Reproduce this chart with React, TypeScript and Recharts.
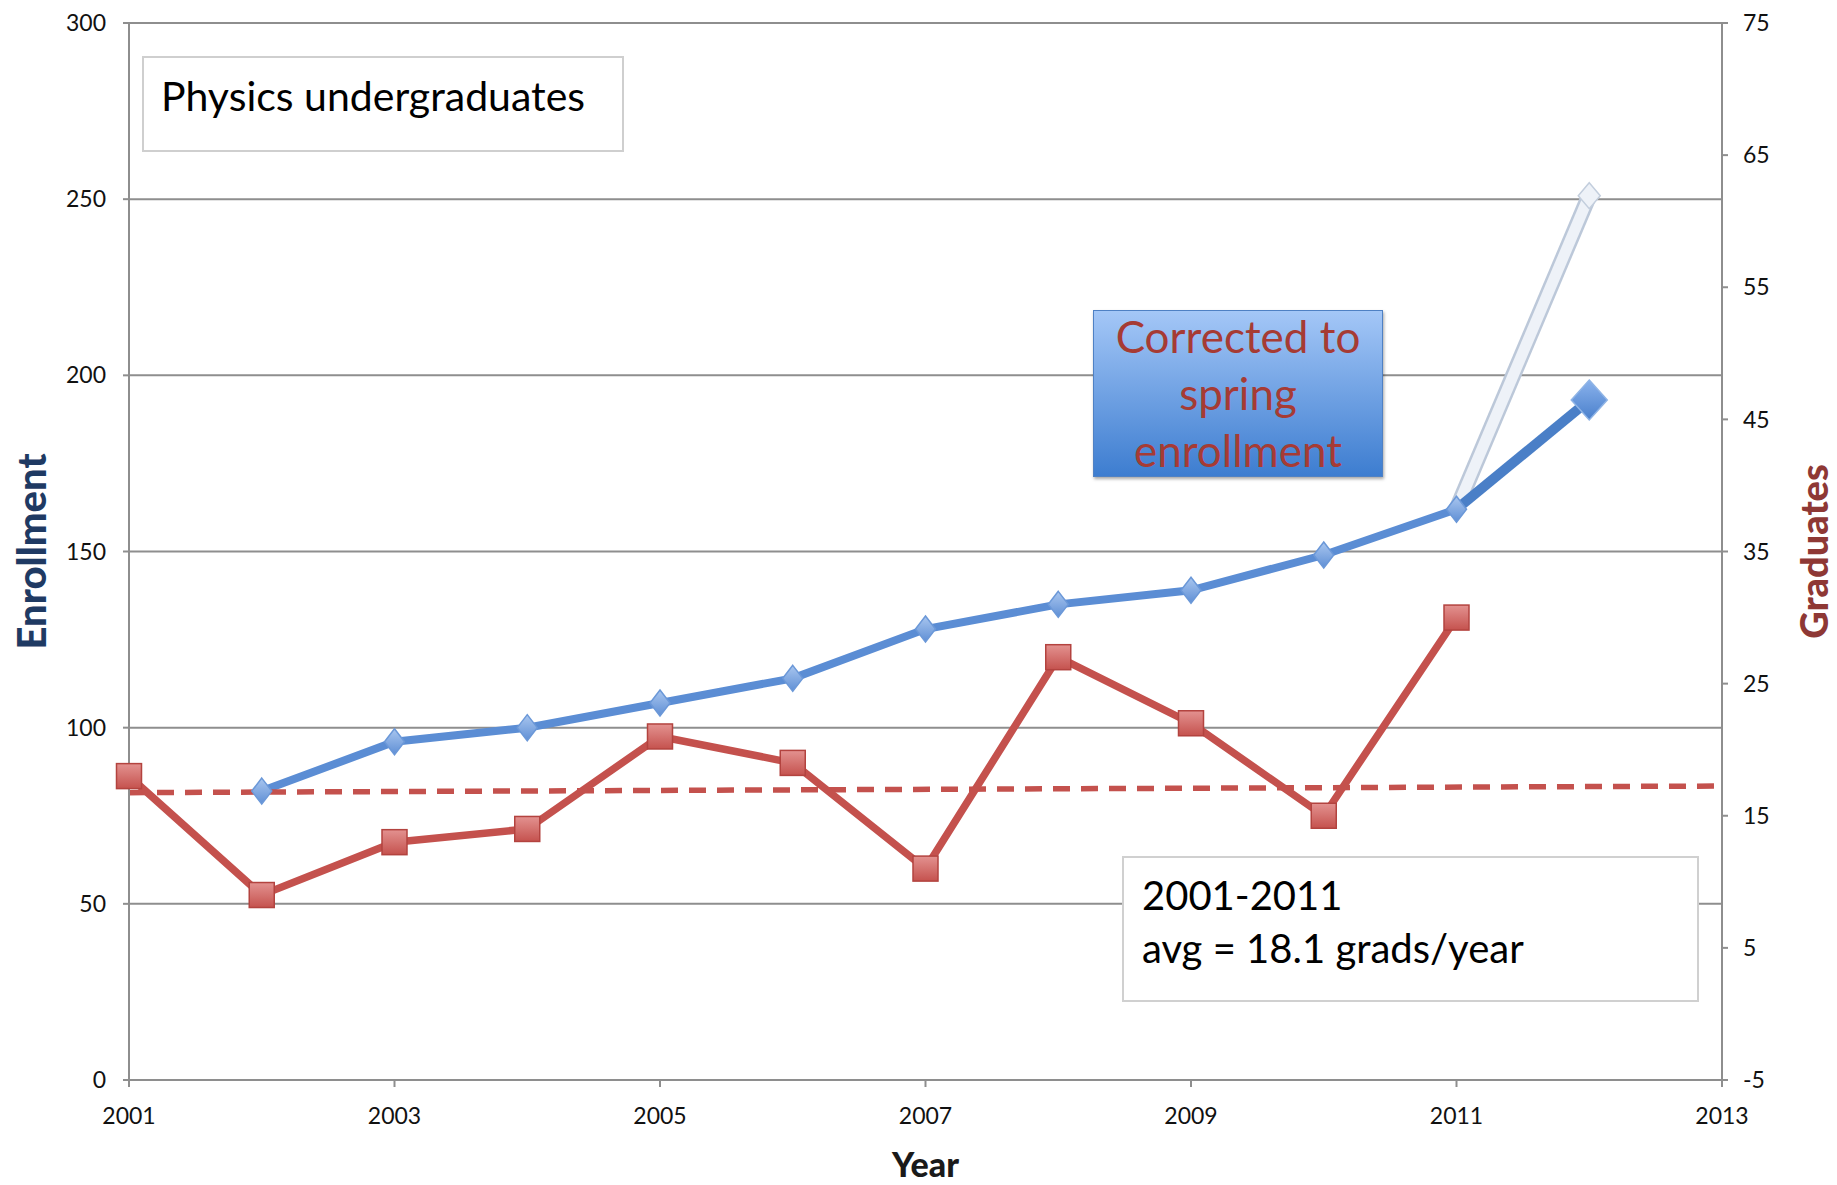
import React from "react";
import {
  ComposedChart,
  Line,
  XAxis,
  YAxis,
  CartesianGrid,
} from "recharts";

// values
const years = [2001, 2002, 2003, 2004, 2005, 2006, 2007, 2008, 2009, 2010, 2011, 2012, 2013];
const enrollment = [null, 82, 96, 100, 107, 114, 128, 135, 139, 149, 162, null, null];
const enrollmentSpring = [null, null, null, null, null, null, null, null, null, null, 162, 193, null];
const enrollmentFall = [null, null, null, null, null, null, null, null, null, null, 162, 251, null];
const graduates = [18, 9, 13, 14, 21, 19, 11, 27, 22, 15, 30, null, null];
const gradTrend = [16.75, null, null, null, null, null, null, null, null, null, null, null, 17.25];

const xTicks = [2001, 2003, 2005, 2007, 2009, 2011, 2013];
const leftTicks = [0, 50, 100, 150, 200, 250, 300];
const rightTicks = [-5, 5, 15, 25, 35, 45, 55, 65, 75];

const data = years.map((year, i) => ({
  year,
  enrollment: enrollment[i],
  spring: enrollmentSpring[i],
  fall: enrollmentFall[i],
  graduates: graduates[i],
  trend: gradTrend[i],
}));

const FONT = "Lato, 'Open Sans', sans-serif";
const GRID = "#8e8e8e";
const BLUE = "#5b8dd4";
const RED = "#c4514d";

const tickStyle = { fontSize: 23, fill: "#111", fontFamily: FONT };

const diamond = (cx: number, cy: number, rx: number, ry: number, fill: string, stroke: string, key: any) => (
  <polygon
    key={key}
    points={`${cx},${cy - ry} ${cx + rx},${cy} ${cx},${cy + ry} ${cx - rx},${cy}`}
    fill={fill}
    stroke={stroke}
    strokeWidth={1.5}
  />
);

const SmallDiamond = (props: any) => {
  const { cx, cy, value, index } = props;
  if (value == null || cy == null) return <g key={index} />;
  return diamond(cx, cy, 10, 13, "url(#diamondFill)", "#6b98d8", index);
};

const SpringDiamond = (props: any) => {
  const { cx, cy, payload, index } = props;
  if (cy == null || payload.year !== 2012) return <g key={index} />;
  return diamond(cx, cy, 18, 20, "url(#bigDiamondFill)", "#8fb4e6", index);
};

const FallDiamond = (props: any) => {
  const { cx, cy, payload, index } = props;
  if (cy == null || payload.year !== 2012) return <g key={index} />;
  return diamond(cx, cy, 11, 13, "#eef2f8", "#c3cedd", index);
};

const Square = (props: any) => {
  const { cx, cy, value, index } = props;
  if (value == null || cy == null) return <g key={index} />;
  const s = 25;
  return (
    <rect
      key={index}
      x={cx - s / 2}
      y={cy - s / 2}
      width={s}
      height={s}
      fill="url(#squareFill)"
      stroke="#b3433f"
      strokeWidth={1.5}
    />
  );
};

const LeftTitle = (props: any) => {
  const { viewBox } = props;
  const x = viewBox.x + 31;
  const y = viewBox.y + viewBox.height / 2;
  return (
    <text
      x={x}
      y={y}
      transform={`rotate(-90 ${x} ${y})`}
      textAnchor="middle"
      dominantBaseline="central"
      fontFamily={FONT}
      fontWeight={900}
      fontSize={40}
      fill="#1f3a63"
    >
      Enrollment
    </text>
  );
};

const RightTitle = (props: any) => {
  const { viewBox } = props;
  const x = viewBox.x + 91;
  const y = viewBox.y + viewBox.height / 2;
  return (
    <text
      x={x}
      y={y}
      transform={`rotate(-90 ${x} ${y})`}
      textAnchor="middle"
      dominantBaseline="central"
      fontFamily={FONT}
      fontWeight={900}
      fontSize={38}
      fill="#8e3835"
    >
      Graduates
    </text>
  );
};

const BottomTitle = (props: any) => {
  const { viewBox } = props;
  const x = viewBox.x + viewBox.width / 2;
  const y = viewBox.y + 83;
  return (
    <text
      x={x}
      y={y}
      textAnchor="middle"
      dominantBaseline="central"
      fontFamily={FONT}
      fontWeight={900}
      fontSize={34}
      fill="#1a1a1a"
    >
      Year
    </text>
  );
};

const boxText = { fontFamily: FONT, color: "#000", position: "absolute" as const };

const App = () => {
  return (
    <div style={{ position: "absolute", left: 0, top: 0, width: 1837, height: 1185, background: "#fff" }}>
      <ComposedChart
        width={1837}
        height={1185}
        data={data}
        margin={{ top: 23, right: 0, left: 0, bottom: 0 }}
      >
        <defs>
          <linearGradient id="diamondFill" x1="0" y1="0" x2="0" y2="1">
            <stop offset="0%" stopColor="#a9c6ef" />
            <stop offset="100%" stopColor="#5f8fd5" />
          </linearGradient>
          <linearGradient id="bigDiamondFill" x1="0" y1="0" x2="0" y2="1">
            <stop offset="0%" stopColor="#8ab2ec" />
            <stop offset="100%" stopColor="#4a80cc" />
          </linearGradient>
          <linearGradient id="squareFill" x1="0" y1="0" x2="0" y2="1">
            <stop offset="0%" stopColor="#e39290" />
            <stop offset="100%" stopColor="#c5524e" />
          </linearGradient>
        </defs>
        <CartesianGrid
          yAxisId="left"
          vertical={false}
          stroke={GRID}
          strokeWidth={2}
        />
        <XAxis
          dataKey="year"
          type="number"
          domain={[2001, 2013]}
          ticks={xTicks}
          allowDecimals={false}
          height={105}
          axisLine={{ stroke: GRID, strokeWidth: 2 }}
          tickLine={{ stroke: GRID, strokeWidth: 2 }}
          tickSize={7}
          tickMargin={21}
          tick={tickStyle}
          label={<BottomTitle />}
        />
        <YAxis
          yAxisId="left"
          domain={[0, 300]}
          ticks={leftTicks}
          width={129}
          axisLine={{ stroke: GRID, strokeWidth: 2 }}
          tickLine={{ stroke: GRID, strokeWidth: 2 }}
          tickSize={6}
          tickMargin={17}
          tick={tickStyle}
          label={<LeftTitle />}
        />
        <YAxis
          yAxisId="right"
          orientation="right"
          domain={[-5, 75]}
          ticks={rightTicks}
          width={115}
          axisLine={{ stroke: GRID, strokeWidth: 2 }}
          tickLine={{ stroke: GRID, strokeWidth: 2 }}
          tickSize={6}
          tickMargin={15}
          tick={tickStyle}
          label={<RightTitle />}
        />
        <Line
          yAxisId="left"
          dataKey="fall"
          stroke="#bcc8d9"
          strokeWidth={16}
          dot={false}
          isAnimationActive={false}
        />
        <Line
          yAxisId="left"
          dataKey="fall"
          stroke="#eef2f8"
          strokeWidth={11}
          dot={FallDiamond}
          isAnimationActive={false}
        />
        <Line
          yAxisId="left"
          dataKey="spring"
          stroke="#4a7fc7"
          strokeWidth={10}
          dot={SpringDiamond}
          isAnimationActive={false}
        />
        <Line
          yAxisId="left"
          dataKey="enrollment"
          stroke={BLUE}
          strokeWidth={8}
          dot={SmallDiamond}
          isAnimationActive={false}
        />
        <Line
          yAxisId="right"
          dataKey="trend"
          stroke={RED}
          strokeWidth={5.5}
          strokeDasharray="17 11"
          connectNulls
          dot={false}
          isAnimationActive={false}
        />
        <Line
          yAxisId="right"
          dataKey="graduates"
          stroke={RED}
          strokeWidth={7.5}
          dot={Square}
          isAnimationActive={false}
        />
      </ComposedChart>

      <div
        style={{
          position: "absolute",
          left: 142,
          top: 56,
          width: 482,
          height: 96,
          boxSizing: "border-box",
          border: "2px solid #cfcfcf",
          background: "#fff",
        }}
      >
        <div style={{ ...boxText, left: 17, top: 14, fontSize: 41, lineHeight: "48px", whiteSpace: "nowrap" }}>
          Physics undergraduates
        </div>
      </div>

      <div
        style={{
          position: "absolute",
          left: 1093,
          top: 310,
          width: 290,
          height: 167,
          boxSizing: "border-box",
          border: "1px solid #4f81c4",
          background: "linear-gradient(#a4c7f7, #3d7dd0)",
          boxShadow: "1px 2px 3px rgba(0,0,0,0.35)",
          textAlign: "center",
          fontFamily: FONT,
          color: "#a63b34",
          fontSize: 44,
          lineHeight: "57px",
        }}
      >
        <div style={{ marginTop: -3 }}>
          Corrected to
          <br />
          spring
          <br />
          enrollment
        </div>
      </div>

      <div
        style={{
          position: "absolute",
          left: 1122,
          top: 856,
          width: 577,
          height: 146,
          boxSizing: "border-box",
          border: "2px solid #d0d0d0",
          background: "#fff",
        }}
      >
        <div style={{ ...boxText, left: 18, top: 11, fontSize: 40, lineHeight: "53px", whiteSpace: "nowrap" }}>
          2001-2011
          <br />
          avg = 18.1 grads/year
        </div>
      </div>
    </div>
  );
};

export default App;
